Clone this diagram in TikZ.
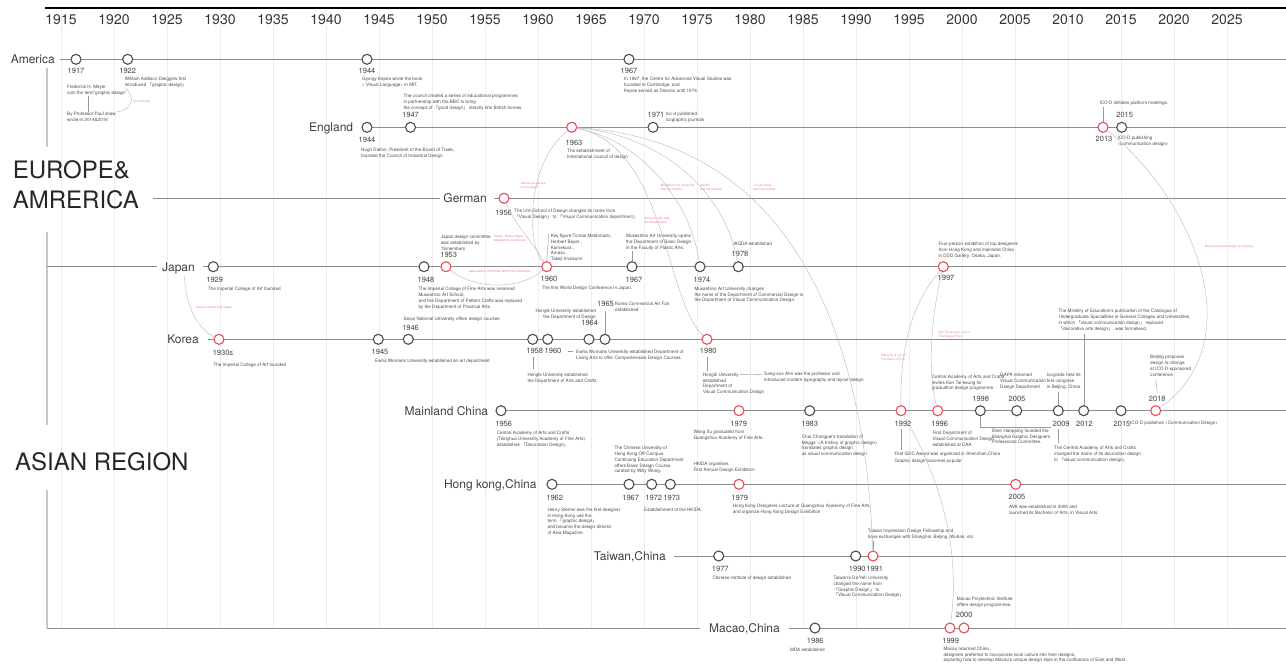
\documentclass[tikz,border=0pt]{standalone}
\usepackage{fontspec}
\setmainfont{TeX Gyre Heros}
\newfontfamily\cjkfont{Noto Sans CJK SC}
\usepackage{tikz}
\usetikzlibrary{calc}
\definecolor{dotgray}{HTML}{4D4D4D}
\definecolor{dotred}{HTML}{EC4B55}
\definecolor{rowgray}{HTML}{8C8C8C}
\definecolor{gridgray}{HTML}{EEEEEE}
\definecolor{sidegray}{HTML}{C8C8C8}
\definecolor{linkgray}{HTML}{BDBDBD}
\definecolor{notegray}{HTML}{4A4A4A}
\definecolor{rednote}{HTML}{F07C82}
\def\thickness{1.1pt}
\newcommand\bquote[1]{{\cjkfont 「}#1{\cjkfont 」}}
\tikzstyle{dot}=[circle, draw=dotgray, fill=white, inner sep=0pt, minimum size=10pt, line width=\thickness]
\tikzstyle{reddot}=[dot, draw=dotred]
\tikzstyle{topyear}=[inner sep=0pt, text=black!80, font=\fontsize{14}{16}\selectfont]
\tikzstyle{yearlabel}=[inner sep=0pt, anchor=base, text=black!75, font=\fontsize{7.5}{8}\selectfont]
\tikzstyle{note}=[inner sep=0pt, anchor=north west, align=left, text=notegray, font=\fontsize{4.6}{5.8}\selectfont]
\tikzstyle{rnote}=[note, text=rednote, font=\fontsize{3}{4.2}\selectfont]
\tikzstyle{country}=[inner sep=0pt, anchor=base east, text=black!75, font=\fontsize{12}{14}\selectfont]
\tikzstyle{region}=[inner sep=0pt, anchor=base west, align=left, text=black!85, font=\fontsize{24}{30}\selectfont]
\tikzstyle{row}=[draw=rowgray, line width=0.9pt]
\tikzstyle{side}=[draw=sidegray, line width=1.6pt]
\tikzstyle{link}=[draw=linkgray, line width=0.45pt]
\tikzstyle{tick}=[draw=black!40, line width=0.4pt]

\begin{document}
\begin{tikzpicture}[x=1pt, y=-1pt]
\useasboundingbox (0,0) rectangle (1286,664);
\foreach \i in {0,...,22} {
  \draw[gridgray, line width=0.6pt] ({61+53*\i},10) -- ({61+53*\i},628);
  \pgfmathtruncatemacro\yy{1915+5*\i}
  \node[topyear] (top\yy) at ({61+53*\i},20) {\yy};
}
\draw[line width=2pt] (45,7.5) -- (1286,7.5);
\draw[side] (47,68) -- (47,147);
\draw[side] (47,232) -- (47,425);
\draw[side] (47,490) -- (47,628);

\node[region] (europe) at (12.7,208.3) {EUROPE\&\\AMRERICA};
\node[region] (asia) at (15,470) {ASIAN REGION};

\node[country] (america) at (55,63.6) {America};
\node[country] (england) at (353.3,131.6) {England};
\node[country] (german) at (487,202.6) {German};
\node[country] (japan) at (195,271) {Japan};
\node[country] (korea) at (199,343.6) {Korea};
\node[country] (mainland) at (488.3,415) {Mainland China};
\node[country] (hongkong) at (536.7,488.6) {Hong kong,China};
\node[country] (taiwan) at (666,560.3) {Taiwan,China};
\node[country] (macao) at (780,632.3) {Macao,China};

\draw[row] (60,59.3) -- (1286,59.3);
\draw[row] (367,127.3) -- (1286,127.3);
\draw[row] (152.7,198.3) -- (440,198.3);
\draw[row] (494,198.3) -- (1286,198.3);
\draw[row] (47,266.7) -- (157,266.7);
\draw[row] (203,266.7) -- (1286,266.7);
\draw[row] (208,339.3) -- (1286,339.3);
\draw[row] (501,410.7) -- (1286,410.7);
\draw[row] (552,484.3) -- (1286,484.3);
\draw[row] (674,556) -- (1286,556);
\draw[row] (47,628) -- (700,628);
\draw[row] (789,628) -- (1286,628);

\node[dot] (am17) at (76,59.3) {};
\node[dot] (am22) at (127.7,59.3) {};
\node[dot] (am44) at (367,59.3) {};
\node[dot] (am67) at (629,59.3) {};
\node[dot] (en44) at (367,127.3) {};
\node[dot] (en47) at (410.5,127.3) {};
\node[reddot] (en63) at (571.7,127.3) {};
\node[dot] (en71) at (653,127.3) {};
\node[reddot] (en13) at (1103,127.3) {};
\node[dot] (en15) at (1121.7,127.3) {};
\node[reddot] (ge56) at (504,198.3) {};
\node[dot] (jp29) at (213.3,266.7) {};
\node[dot] (jp48) at (424,266.7) {};
\node[reddot] (jp53) at (446,266.7) {};
\node[reddot] (jp60) at (546.7,266.7) {};
\node[dot] (jp67) at (632,266.7) {};
\node[dot] (jp74) at (700,266.7) {};
\node[dot] (jp78) at (738.3,266.7) {};
\node[reddot] (jp97) at (943.3,266.7) {};
\node[reddot] (ko30) at (219,339.3) {};
\node[dot] (ko45) at (378.3,339.3) {};
\node[dot] (ko46) at (408.3,339.3) {};
\node[dot] (ko58) at (532.7,339.3) {};
\node[dot] (ko60) at (547.7,339.3) {};
\node[dot] (ko64) at (589,339.3) {};
\node[dot] (ko65) at (605,339.3) {};
\node[reddot] (ko80) at (707,339.3) {};
\node[dot] (mc56) at (501,410.7) {};
\node[reddot] (mc79) at (739,410.7) {};
\node[dot] (mc83) at (809.7,410.7) {};
\node[reddot] (mc92) at (901,410.7) {};
\node[reddot] (mc96) at (937.7,410.7) {};
\node[dot] (mc98) at (980.3,410.7) {};
\node[dot] (mc05) at (1016.7,410.7) {};
\node[dot] (mc09) at (1058.3,410.7) {};
\node[dot] (mc12) at (1083.7,410.7) {};
\node[dot] (mc15) at (1121,410.7) {};
\node[reddot] (mc18) at (1155.7,410.7) {};
\node[dot] (hk62) at (552,484.3) {};
\node[dot] (hk67) at (629,484.3) {};
\node[dot] (hk72) at (651.7,484.3) {};
\node[dot] (hk73) at (670.3,484.3) {};
\node[reddot] (hk79) at (739,484.3) {};
\node[reddot] (hk05) at (1015.7,484.3) {};
\node[dot] (tw77) at (718.7,556) {};
\node[dot] (tw90) at (855.7,556) {};
\node[reddot] (tw91) at (873,556) {};
\node[dot] (mo86) at (815,628) {};
\node[reddot] (mo99) at (950,628) {};
\node[reddot] (mo00) at (964,628) {};

\node[yearlabel] (am17y) at (76,73.3) {1917};
\node[yearlabel] (am22y) at (127.7,73.3) {1922};
\node[yearlabel] (am44y) at (367,73.3) {1944};
\node[yearlabel] (am67y) at (629,73.3) {1967};
\node[yearlabel] (en44y) at (367,142.7) {1944};
\node[yearlabel] (en47y) at (410.5,117.3) {1947};
\node[yearlabel] (en63y) at (574,145) {1963};
\node[yearlabel] (en71y) at (656,117.3) {1971};
\node[yearlabel] (en13y) at (1104,141.7) {2013};
\node[yearlabel] (en15y) at (1124.7,117.3) {2015};
\node[yearlabel] (ge56y) at (503.5,215) {1956};
\node[yearlabel] (jp29y) at (214.7,282.3) {1929};
\node[yearlabel] (jp48y) at (426,282.3) {1948};
\node[yearlabel] (jp53y) at (448.7,257.7) {1953};
\node[yearlabel] (jp60y) at (549,281.7) {1960};
\node[yearlabel] (jp67y) at (634,282) {1967};
\node[yearlabel] (jp74y) at (702,282) {1974};
\node[yearlabel] (jp78y) at (740,256.7) {1978};
\node[yearlabel] (jp97y) at (946,280.7) {1997};
\node[yearlabel] (ko30y) at (223,355) {1930s};
\node[yearlabel] (ko45y) at (380,354) {1945};
\node[yearlabel] (ko46y) at (410.5,330) {1946};
\node[yearlabel] (ko58y) at (534.7,353.3) {1958};
\node[yearlabel] (ko60y) at (553,353.3) {1960};
\node[yearlabel] (ko64y) at (589.7,325.7) {1964};
\node[yearlabel] (ko65y) at (605.5,306.7) {1965};
\node[yearlabel] (ko80y) at (708.3,353.3) {1980};
\node[yearlabel] (mc56y) at (503.7,426) {1956};
\node[yearlabel] (mc79y) at (738.7,426) {1979};
\node[yearlabel] (mc83y) at (809.7,426) {1983};
\node[yearlabel] (mc92y) at (903,426) {1992};
\node[yearlabel] (mc96y) at (939.7,426) {1996};
\node[yearlabel] (mc98y) at (980.7,401.7) {1998};
\node[yearlabel] (mc05y) at (1017,401.7) {2005};
\node[yearlabel] (mc09y) at (1061.3,426) {2009};
\node[yearlabel] (mc12y) at (1084.5,426) {2012};
\node[yearlabel] (mc15y) at (1122,426) {2015};
\node[yearlabel] (mc18y) at (1157.3,401.7) {2018};
\node[yearlabel] (hk62y) at (554.7,500.5) {1962};
\node[yearlabel] (hk67y) at (630.7,500) {1967};
\node[yearlabel] (hk72y) at (653.7,500) {1972};
\node[yearlabel] (hk73y) at (671.8,500) {1973};
\node[yearlabel] (hk79y) at (739.7,500) {1979};
\node[yearlabel] (hk05y) at (1017,499.5) {2005};
\node[yearlabel] (tw77y) at (720.3,571.7) {1977};
\node[yearlabel] (tw90y) at (857.3,571.7) {1990};
\node[yearlabel] (tw91y) at (874.7,571.7) {1991};
\node[yearlabel] (mo86y) at (815.3,643.3) {1986};
\node[yearlabel] (mo99y) at (950.7,643.3) {1999};
\node[yearlabel] (mo00y) at (964.2,617.7) {2000};

\node[note] (ammeyer) at (67,85) {Frederick H. Meyer\\coin the term"graphic design"};
\node[note] (amshaw) at (67,111.7) {By Professor Paul shaw\\wrote in 2014\&2016};
\node[note] (amdwig) at (124.7,77.3) {William Addison Dwiggins first\\introduced \bquote{graphic design}};
\node[note] (amkepes) at (362,77.3) {Gyorgy Kepes wrote the book\\< Visual Language> in MIT.};
\node[note] (amcave) at (624,77.3) {In 1967, the Centre for Advanced Visual Studies was\\founded in Cambridge, and\\Kepes served as Director until 1974.};
\node[note] (encouncil) at (403.3,94.3) {The council created a series of educational programmes\\in partnership with the BBC to bring\\the concept of \bquote{good design} directly into British homes.};
\node[note] (endalton) at (361,148.3) {Hugh Dalton, President of the Board of Trade,\\founded the Council of Industrial Design};
\node[note] (enicod) at (567,149.3) {The establishment of\\International council of design};
\node[note] (enjournal) at (665.7,112.3) {Ico-d published\\icographic journals};
\node[note] (enmeet) at (1099.3,101) {ICO-D initiates platform meetings.};
\node[note] (enpub) at (1117.3,136) {ICO-D publishing\\<communication design>};
\node[note] (geulm) at (514,209) {The Ulm School of Design changes its name from\\ \bquote{Visual Design} to \bquote{Visual Communication department}};
\node[note] (jpart29) at (207.7,286.7) {The Imperial College of Art founded};
\node[note] (jpcommittee) at (440.7,235) {Japan design committee\\was established by\\15members};
\node[note] (jpmusashino) at (418.3,287) {The Imperial College of Fine Arts was renamed\\Musashino Art School,\\and the Department of Pattern Crafts was replaced\\ by the Department of Practical Arts.};
\node[note] (jpkey) at (550.7,234) {Key figure:Tomas Maldonado,\\Herbert Bayer ,\\Kamekura ,\\Amazu ,\\Takeji Imaizumi};
\node[note] (jpwdc) at (541.7,286) {The first World Design Conference in Japan.};
\node[note] (jpopen) at (626,234) {Musashino Art University opens\\the Department of Basic Design\\in the Faculty of Plastic Arts.};
\node[note] (jpchange) at (694.3,286.7) {Musashino Art University changes\\the name of the Department of Commercial Design to\\the Department of Visual Communication Design.};
\node[note] (jpjagda) at (732.3,242) {JAGDA established};
\node[note] (jpddd) at (938.3,242.3) {Four-person exhibition of top designers\\from Hong Kong and mainland China\\in DDD Gallery, Osaka, Japan.};
\node[note] (koart30) at (213.3,362.7) {The Imperial College of Art founded};
\node[note] (koewha45) at (375,359) {Ewha Womans University established an art department};
\node[note] (koseoul) at (403.3,316.7) {Seoul National University offers design courses};
\node[note] (kohongik58) at (527.3,372.7) {Hongik University established\\the Department of Arts and Crafts.};
\node[note] (koewha60) at (576,350) {Ewha Womans University established Department of\\Living Arts to offer Comprehensive Design Courses.};
\node[note, anchor=north east, align=right] (kohongik64) at (596,309.3) {Hongik University established\\the Department of Design};
\node[note] (kofair) at (615,301.7) {Korea Commercial Art Fair\\established};
\node[note] (kohongik80) at (702.7,372.7) {Hongik University\\established\\Department of\\Visual Communication Design};
\node[note] (kosang) at (764,372.3) {Sang-soo Ahn was the professor and\\introduced modern typography and layout design};
\node[note] (mccaa56) at (496.7,431) {Central Academy of Arts and Crafts\\(Tsinghua University Academy of Fine Arts)\\establishes \bquote{Decoration Design}};
\node[note] (mcwang) at (693.3,430) {Wang Xu graduated from\\Guangzhou Academy of Fine Arts.};
\node[note] (mcchai) at (801.7,434.7) {Chai Changpei's translation of\\Meggs' <A history of graphic design>\\translates graphic design\\as visual communication design.};
\node[note] (mcgdc) at (894.3,452.3) {First GDC Award was organized in Shenzhen,China};
\node[note] (mcpop) at (894.3,459.3) {Graphic design becomes popular};
\node[note] (mcfirst) at (932.3,431) {First Department of\\Visual Communication Design\\ established at CAA};
\node[note] (mckan) at (931.7,374.7) {Central Academy of Arts and Crafts\\ invites Kan Tai-keung for\\graduation design programme};
\node[note] (mcshen) at (991.3,428.7) {Shen Hanpping founded the\\Shanghai Graphic Designers\\Professional Committee.};
\node[note] (mcgapa) at (1000,373.3) {GAPA renamed\\Visual Communication\\Design Department};
\node[note] (mcico) at (1046.7,373.3) {Icograda held its\\first congress\\ in Beijing, China.};
\node[note] (mccaa09) at (1054,446) {The Central Academy of Arts and Crafts\\changed the name of its decoration design\\to \bquote{visual communication design}};
\node[note] (mcmin) at (1058.3,309.3) {The Ministry of Education's publication of the Catalogue of\\Undergraduate Specialities in General Colleges and Universities,\\in which \bquote{visual communication design} replaced\\\bquote{decorative arts design}, was formalised.};
\node[note, anchor=west] (mcicod) at (1130,423) {ICO-D publishes <Communication Design>};
\node[note] (mcbeijing) at (1150,355.3) {Beijing proposes\\design is change\\at ICO-D-sponsored\\conference};
\node[note] (hksteiner) at (547.3,507.7) {Henry Steiner was the first designer\\in Hong Kong use the\\term \bquote{graphic design}\\and became the design director\\of Asia Magazine.};
\node[note] (hkcuhk) at (614.3,446) {The Chinese University of\\Hong Kong Off-Campus\\Continuing Education Department\\offers Basic Design Course,\\curated by Willy Wong.};
\node[note] (hkhkida) at (644,508.3) {Establishment of the HKIDA};
\node[note] (hkexhib) at (693.3,462.3) {HKIDA organises\\First Annual Design Exhibition};
\node[note] (hklecture) at (732.7,504) {Hong Kong Designers Lecture at Guangzhou Academy of Fine Arts\\and organize Hong Kong Design Exhibition};
\node[note] (hkava) at (1009,505) {AVA was established in 2005 and\\launched its Bachelor of Arts, in Visual Arts.};
\node[note] (twcid) at (712.3,576) {Chinese institute of design established};
\node[note] (twdayeh) at (833.3,576) {Taiwan's Da-Yeh University\\changed the name from\\ \bquote{Graphic Design} to\\ \bquote{Visual Communication Design}};
\node[note] (twimp) at (867.7,528.7) {Taiwan Impression Design Fellowship and\\have exchanges with Shanghai, Beijing, Wuhan, etc.};
\node[note] (momda) at (790,647.7) {MDA established};
\node[note] (mopoly) at (956.7,597.3) {Macao Polytechnic Institute\\offers design programmes.};
\node[note] (moreturn) at (943.3,646.7) {Macau returned China ,\\designers preferred to incorporate local culture into their designs,\\exploring how to develop Macau's unique design style in the confluence of East and West.};

\node[rnote] (rndebate) at (133,100) {controversial};
\node[rnote] (rnkorea) at (195.7,305.7) {Korean studied from Japan};
\node[rnote] (rnkamekura) at (520.7,181.7) {Kamekura was the\\theme board};
\node[rnote] (rntomas) at (493.3,235) {Tomas , Herbert Bayer\\attended the conference};
\node[rnote] (rncommittee) at (468.3,270) {Japan design committee attend the conference};
\node[rnote] (rnmusashino) at (660.7,184) {Musashino Art University\\was the member};
\node[rnote] (rnjagda) at (700,184) {JAGDA\\was the member};
\node[rnote] (rnlin) at (753.3,184) {Lin pan song\\was the member};
\node[rnote] (rnsong) at (644.3,217.3) {Song soo Ahn was\\the theme board};
\node[rnote] (rnkan) at (938.3,331) {Kan Tai-keung is one of\\The Gang of Four};
\node[rnote] (rnwang) at (881,354) {Wang Xu is one of\\The Gang of Four};
\node[rnote] (rnbeijing) at (1205,245) {Beijing proposes design is changing};

\draw[tick] ([xshift=21pt]ammeyer.south west) -- ([xshift=21pt]amshaw.north west);
\draw[tick] ($(en13 |- enmeet.south)+(0,1)$) -- (en13.north);
\draw[tick] (jp60.north) -- ($(jp60 |- jpkey.north)+(2,0)$);
\draw[tick] ($(jp67 |- jpopen.south)+(0,1)$) -- (jp67.north);
\draw[tick] ($(ko65 |- ko65y.south)+(0,4)$) -- (ko65.north);
\draw[tick] ($(ko58 |- ko58y.south)+(0,3)$) -- ($(ko58 |- kohongik58.north)+(0,-4)$);
\draw[tick] ($(ko60y.east)+(6,0)$) -- ($(ko60y.east -| koewha60.west)+(-3,0)$);
\draw[tick] ($(ko80 |- ko80y.south)+(0,3)$) -- ($(ko80 |- kohongik80.north)+(0,-2)$);
\draw[tick] ($(kohongik80.north west)+(37,2)$) -- ($(kosang.north west)+(-2,2)$);
\draw[tick] ($(mc92 |- mc92y.south)+(0,3)$) -- ($(mc92 |- mcgdc.north)+(0,-2)$);
\draw[tick] (mc98.south) |- ($(mcshen.north east)+(0,-2)$);
\draw[tick] ($(mc09 |- mcico.south)+(0,2)$) -- (mc09.north);
\draw[tick] ($(mc09 |- mc09y.south)+(0,3)$) -- ($(mc09 |- mccaa09.north)+(0,-3)$);
\draw[tick] ($(mc12 |- mcmin.south)+(0,2)$) -- (mc12.north);
\draw[tick] ($(mc18 |- mcbeijing.south)+(0,3)$) -- ($(mc18y.north)+(0,-3)$);
\draw[tick] ($(tw91 |- twimp.south)+(0,2)$) -- (tw91.north);

\draw[link] ([xshift=1pt]amdwig.south west) .. controls (137,99) and (130,111) .. ([xshift=50pt]amshaw.north west);
\draw[link] ($(japan.south)+(6,2)$) .. controls (186,310) and (200,330) .. (ko30);
\draw[link] (en63) .. controls (525,165) and (527,245) .. (jp60);
\draw[link] (ge56) .. controls (515,225) and (535,245) .. (jp60);
\draw[link] (jp53) .. controls (475,290) and (520,290) .. (jp60);
\draw[link] (en63) .. controls (640,140) and (690,200) .. (jp74);
\draw[link] (en63) .. controls (660,135) and (725,190) .. (jp78);
\draw[link] (en63) .. controls (665,145) and (665,300) .. (ko80);
\draw[link] (en63) .. controls (790,140) and (865,330) .. (tw91);
\draw[link] (en13) .. controls (1190,195) and (1255,340) .. (mc18);
\draw[link] (jp97) .. controls (915,300) and (900,340) .. (mc92);
\draw[link] (jp97) .. controls (935,300) and (925,360) .. (mc96);
\draw[link] (mc92) .. controls (935,470) and (962,540) .. (mo99);
\end{tikzpicture}
\end{document}
